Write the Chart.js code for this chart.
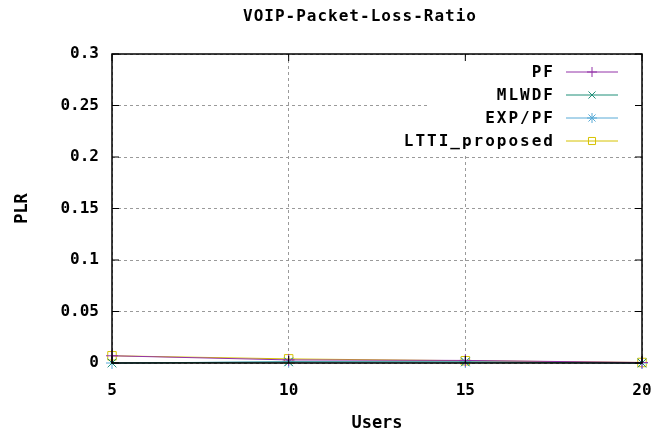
<!DOCTYPE html>
<html lang="en">
<head>
  <meta charset="UTF-8">
  <title>VOIP-Packet-Loss-Ratio</title>
  <script src="https://cdn.jsdelivr.net/npm/chart.js"></script>
  <style>
    body {
      margin: 0;
      background: #fff;
    }
    #chart-container {
      width: 652px;
      height: 436px;
      position: relative;
    }
  </style>
</head>
<body>
<div id="chart-container">
  <canvas id="chart"></canvas>
</div>

<script>
// values
const users = [5, 10, 15, 20];
const pf = [0.007, 0.003, 0.0025, 0.0005];
const mlwdf = [0, 0.001, 0.001, 0];
const expPf = [0, 0.0012, 0.001, 0];
const ltti = [0.007, 0.004, 0.0022, 0.0005];
const seriesNames = ['PF', 'MLWDF', 'EXP/PF', 'LTTI_proposed'];
const seriesColors = ['#9332a8', '#1f8f78', '#58aad6', '#d6c200'];
const seriesMarkers = ['cross', 'crossRot', 'star', 'rect'];
const chartTitle = 'VOIP-Packet-Loss-Ratio';

const FONT = "'DejaVu Sans Mono', monospace";

function toPoints(vals) {
  return users.map((u, i) => ({ x: u, y: vals[i] }));
}

const datasets = [pf, mlwdf, expPf, ltti].map((vals, i) => ({
  label: seriesNames[i],
  data: toPoints(vals),
  borderColor: seriesColors[i],
  backgroundColor: 'rgba(0,0,0,0)',
  borderWidth: 1,
  pointStyle: seriesMarkers[i],
  pointRadius: 6,
  pointBorderWidth: 1,
  pointBorderColor: seriesColors[i],
  pointBackgroundColor: 'rgba(0,0,0,0)',
  tension: 0,
  clip: false
}));

// gnuplot look: framed box, inner ticks, key on the right, title
const gnuplotFrame = {
  id: 'gnuplotFrame',
  afterDraw(chart) {
    const ctx = chart.ctx;
    const a = chart.chartArea;
    ctx.save();

    // title
    ctx.fillStyle = '#000';
    ctx.font = 'bold 16px ' + FONT;
    ctx.textAlign = 'center';
    ctx.textBaseline = 'middle';
    ctx.letterSpacing = '1px';
    ctx.fillText(chartTitle, 360, 17);

    // key box (blanks grid behind it)
    ctx.fillStyle = '#fff';
    ctx.fillRect(428, a.top + 3, a.right - 430, 96);

    const rowY = [72, 95, 118, 141];
    chart.data.datasets.forEach((ds, i) => {
      const y = rowY[i];
      ctx.fillStyle = '#000';
      ctx.font = 'bold 16px ' + FONT;
      ctx.letterSpacing = '2px';
      ctx.textAlign = 'right';
      ctx.textBaseline = 'middle';
      ctx.fillText(ds.label, 555, y + 1);
      ctx.letterSpacing = '0px';
      ctx.strokeStyle = ds.borderColor;
      ctx.lineWidth = 1;
      ctx.beginPath();
      ctx.moveTo(566, y);
      ctx.lineTo(618, y);
      ctx.stroke();
      ctx.fillStyle = 'rgba(0,0,0,0)';
      Chart.helpers.drawPoint(ctx, {
        pointStyle: ds.pointStyle,
        radius: 5,
        borderWidth: 1,
        rotation: 0
      }, 592, y);
    });

    // frame
    ctx.strokeStyle = '#000';
    ctx.lineWidth = 1.5;
    ctx.strokeRect(a.left, a.top, a.right - a.left, a.bottom - a.top);

    // inner tick marks on all four sides
    ctx.lineWidth = 1;
    const xs = chart.scales.x, ys = chart.scales.y;
    ys.ticks.forEach(t => {
      const y = ys.getPixelForValue(t.value);
      ctx.beginPath();
      ctx.moveTo(a.left, y); ctx.lineTo(a.left + 7, y);
      ctx.moveTo(a.right, y); ctx.lineTo(a.right - 7, y);
      ctx.stroke();
    });
    xs.ticks.forEach(t => {
      const x = xs.getPixelForValue(t.value);
      ctx.beginPath();
      ctx.moveTo(x, a.bottom); ctx.lineTo(x, a.bottom - 7);
      ctx.moveTo(x, a.top); ctx.lineTo(x, a.top + 7);
      ctx.stroke();
    });
    ctx.restore();
  }
};

const ctx = document.getElementById('chart').getContext('2d');
const chart = new Chart(ctx, {
  type: 'line',
  data: { datasets },
  plugins: [gnuplotFrame],
  options: {
    responsive: true,
    maintainAspectRatio: false,
    animation: false,
    layout: { padding: { top: 54, right: 10, left: 0, bottom: 0 } },
    plugins: {
      legend: { display: false },
      tooltip: { enabled: false }
    },
    scales: {
      x: {
        type: 'linear',
        min: 5,
        max: 20,
        afterFit: (scale) => {
          scale.height = 73;
          scale.paddingLeft = 0;
          scale.paddingRight = 0;
        },
        ticks: {
          stepSize: 5,
          color: '#000',
          padding: 18,
          font: { family: FONT, size: 16, weight: 'bold' }
        },
        grid: { color: '#9a9a9a', lineWidth: 1, drawTicks: false },
        border: { display: false, dash: [3, 3] },
        title: {
          display: true,
          text: 'Users',
          color: '#000',
          padding: { top: 0, bottom: 2 },
          font: { family: FONT, size: 17, weight: 'bold' }
        }
      },
      y: {
        min: 0,
        max: 0.3,
        afterFit: (scale) => { scale.width = 112; },
        ticks: {
          stepSize: 0.05,
          color: '#000',
          padding: 13,
          font: { family: FONT, size: 16, weight: 'bold' },
          callback: (v) => String(Number(v.toFixed(2)))
        },
        grid: { color: '#9a9a9a', lineWidth: 1, drawTicks: false },
        border: { display: false, dash: [3, 3] },
        title: {
          display: true,
          text: 'PLR',
          color: '#000',
          padding: { top: 12, bottom: 0 },
          font: { family: FONT, size: 17, weight: 'bold' }
        }
      }
    }
  }
});
</script>
</body>
</html>
